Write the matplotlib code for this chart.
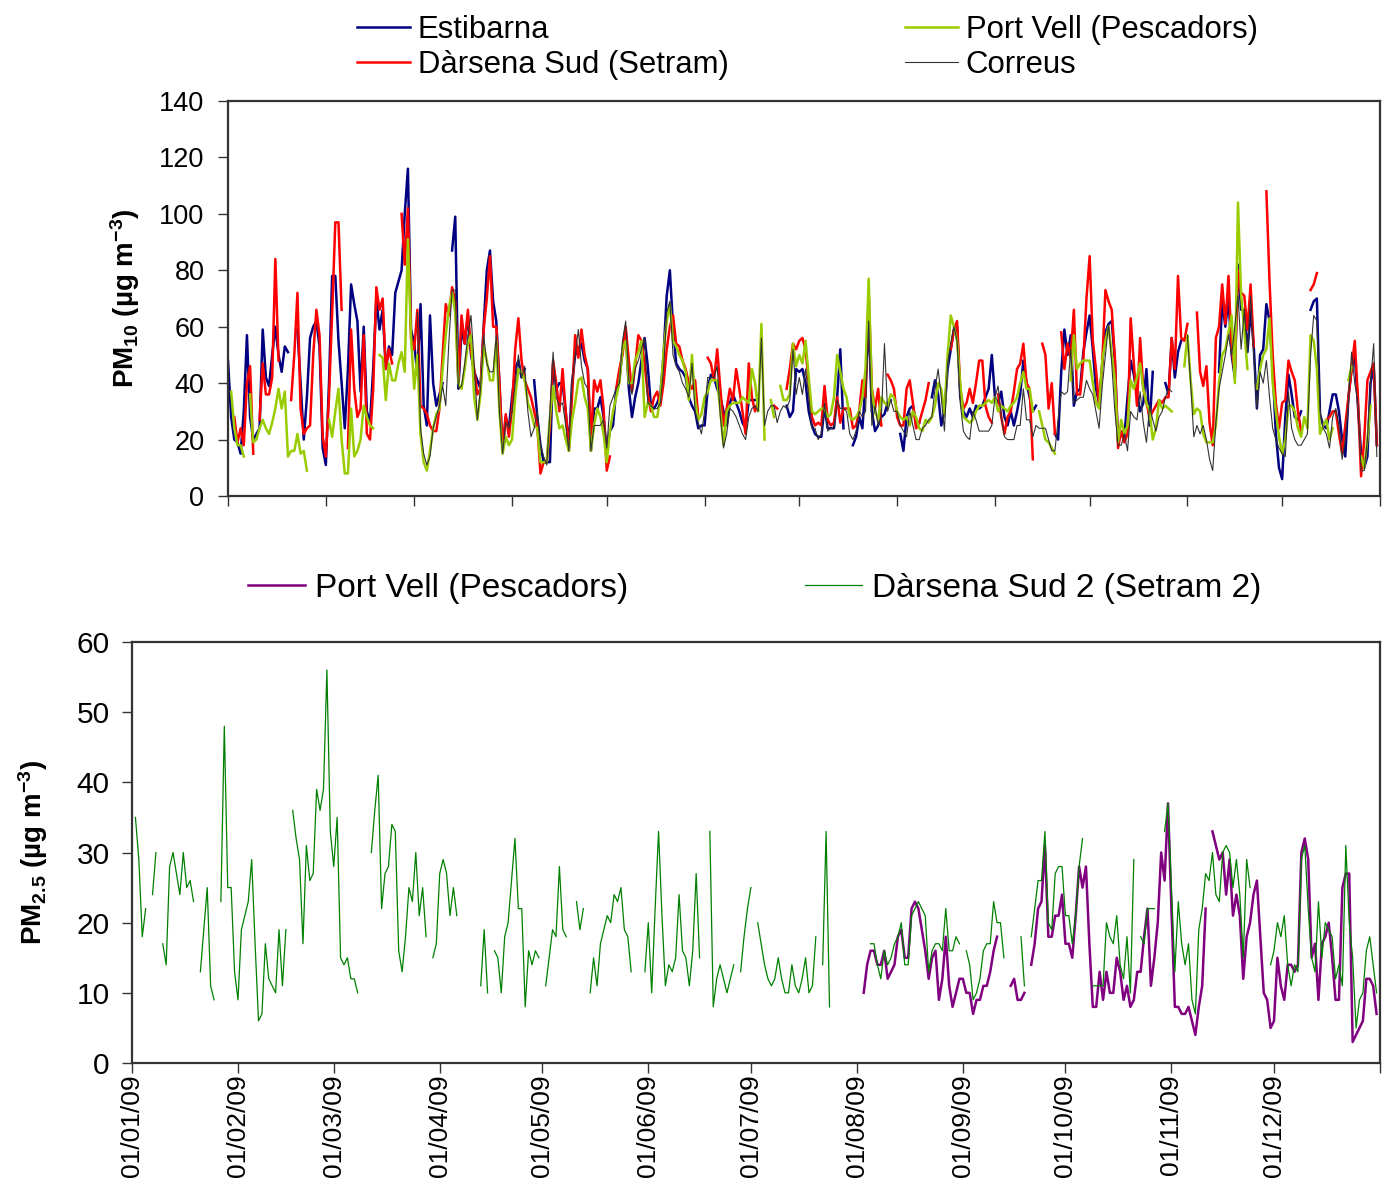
import numpy as np
import matplotlib
matplotlib.use('Agg')
import matplotlib.pyplot as plt

N = None  # missing day

# PM10 daily means, 2009 (one value per day, Jan..Dec)
estibarna = [
    48, 28, 20, 19, 15, 30, 57, 28, 20, 22, 24, 59, 42, 39, 50, 60, 50, 44, 53, 51, N, N, 59, 40, 20, 35, 56, 60, 62, 53, 17,
    11, 40, 78, 78, 55, 40, 24, 45, 75, 68, 62, 37, 60, 30, 26, 45, 70, 59, 66, 45, 53, 50, 72, 76, 80, 100, 116, 59,
    54, 43, 68, 32, 25, 64, 40, 32, 36, 40, N, N, 87, 99, 38, 59, 54, 64, 50, 44, 41, 38, 60, 80, 87, 69, 62, 40, 16, 28, 24,
    35, 45, 48, 42, 45, N, N, 41, 28, 18, 12, 12, 12, 47, 38, 40, 40, 30, 17, 40, 50, 52, 54, 48, 45, 16, 31, 31, 35, 28,
    16, 23, 25, 38, 41, 52, 59, 38, 28, 35, 40, 48, 56, 46, 32, 31, 33, 36, 50, 71, 80, 60, 47, 45, 44, 42, 35, 32, 30, 24, 25,
    25, 38, 43, 42, 38, 35, 30, 25, 33, 36, 33, 30, 26, 24, 34, 34, 34, 34, N, N, N, N, N, N, N, N, 32, 28, 30, 45,
    44, 45, 40, 30, 25, 22, 21, 21, 32, 24, 24, 24, 35, 52, 24, N, N, 18, 21, 28, 24, 40, 62, 30, 23, 25, 28, 29, 33, 34, N,
    N, 22, 16, 28, 31, 32, 26, 26, N, N, N, 35, 41, 36, 25, 30, 45, 52, 59, 60, 35, 30, 28, 31, 28, 32, 31, 32, 35, 38, 50,
    35, 33, 37, 28, 25, 30, 25, 30, 36, 48, 40, 35, 30, 32, N, N, N, N, N, 22, 20, 44, 59, 50, 57, 32, 37, 38, 51, 58,
    64, 52, 38, 33, 47, 58, 61, 62, 48, 19, 23, 21, 35, 48, 43, 36, 30, 33, 45, 25, 44, N, N, N, 40, 36, 56, 42, 51, 55, N,
    N, N, N, N, N, N, N, N, N, N, 44, 69, 60, 70, 50, 42, 82, 66, 66, 51, 66, 53, 31, 50, 52, 68, 62, 45, 22, 10,
    6, 28, 43, 36, 28, 27, 30, N, N, 66, 69, 70, 29, 25, 24, 30, 36, 36, 30, 20, 14, 35, 45, 50, 32, 15, 10, 14, 40, 46, 18,
]

darsena_sud = [
    N, N, 28, 19, 24, 18, 40, 46, 15, N, 27, 47, 36, 36, 42, 84, 48, N, N, N, 34, 50, 72, 31, 22, 24, 25, 50, 66, 57, 21,
    14, 35, 65, 97, 97, 66, N, 17, 59, 38, 28, 31, 57, 22, 20, 38, 74, 66, 70, 45, 52, 47, N, N, 100, 82, 102, 56,
    52, 66, 32, 31, 29, 25, 23, 23, 31, 50, 68, 64, 74, 69, 41, 64, 54, 66, 51, 45, 36, 38, 59, 70, 85, 60, 60, 40, 16, 29, 21,
    31, 52, 63, 48, 41, 38, 35, 30, 25, 8, 12, 12, 25, 48, 40, 30, 45, 30, 16, 35, 57, 49, 59, 50, 45, 20, 41, 37, 41, 31,
    9, 14, N, 38, 45, 50, 60, 48, 37, 46, 57, 55, 47, 36, 30, 35, 37, 32, 40, 52, 60, 64, 54, 53, 48, 45, 40, 38, 41, 28, N,
    N, 49, 47, 41, 52, 38, 25, 31, 38, 34, 45, 38, 30, 22, 47, 35, 30, 34, N, N, N, N, 32, 31, N, N, 38, 45, 54, 52,
    55, 56, 52, 40, 28, 25, 26, 25, 39, 27, 25, 26, 35, 26, 31, 31, 31, 24, 25, 30, 41, 35, 72, 38, 31, 38, 25, N, 43, 41, 38,
    28, 25, 25, 38, 41, 33, 24, 26, 30, 34, 40, N, N, N, N, N, N, 52, 59, 62, 38, 31, 33, 38, 33, 40, 48, 48, 32, 28, 26,
    N, 36, 28, 22, 28, 30, 37, 45, 47, 54, 40, 38, 13, N, N, 54, 50, 31, 40, 22, N, 58, 45, 54, 49, 66, 36, 36, 48, 70,
    85, 55, 45, 32, 47, 73, 69, 66, 49, 17, 23, 19, 22, 63, 47, 32, 56, 38, 33, 28, 30, 32, 34, 33, 35, 35, 56, 45, 78, 56, 55,
    61, N, N, 65, 44, 39, 46, 26, 18, 56, 60, 75, 61, 78, 52, 44, 80, 72, 71, 59, 75, 53, N, N, N, 108, 76, 50, 33, 24,
    33, 34, 48, 44, 41, 30, 23, N, N, 73, 75, 79, N, N, 27, 28, 30, 30, 22, 15, 25, 35, 45, 55, 35, 7, 20, 41, 44, 47, 18,
]

port_vell = [
    N, 37, 24, 18, 18, 14, N, 36, 19, 20, 24, 27, 24, 22, 26, 31, 38, 31, 37, 14, 16, 16, 22, 15, 16, 9, N, N, N, N, N,
    N, 27, 21, 30, 38, 20, 8, 8, 31, 14, 16, 20, 32, 28, 25, 24, N, 50, 49, 34, 47, 41, 41, 47, 51, 44, 91, 56,
    38, 50, 22, 12, 9, 16, 24, 29, 31, 45, 57, 67, 72, 65, 40, 38, 45, 54, 57, 35, 27, 36, 53, 48, 41, 41, 55, 30, 15, 21, 18,
    20, 35, 45, 44, 41, 33, 30, 25, 24, 12, 12, 12, 28, 39, 30, 24, 25, 20, 16, 27, 33, 41, 42, 35, 31, 16, 25, 31, 28, 22,
    12, 23, 30, 35, 40, 52, 55, 40, 40, 48, 51, 55, 28, 33, 32, 28, 28, 35, 51, 62, 68, 55, 53, 50, 48, 44, 34, 50, 34, 27, 29,
    35, 37, 41, 41, 41, 30, 18, 30, 32, 33, 33, 33, 35, 34, 33, 45, 40, 30, 61, 20, N, 34, 28, N, 39, 34, 34, 36, 54, 46,
    50, 47, 55, 42, 30, 29, 30, 31, 31, 28, 29, 35, 50, 44, 38, 35, 28, 27, 28, 30, 35, 45, 77, 37, 30, 27, 35, 33, 32, 36, 35,
    30, 28, 27, 28, 25, 30, 28, 24, 23, 27, 26, 28, 32, 40, 38, 29, 50, 64, 60, 55, 40, 28, 27, 26, 27, 30, 32, 32, 33, 34, 33,
    35, 30, 32, 31, 30, 32, 33, 35, 40, 44, 38, 38, 30, N, 30, 25, 20, 19, 17, 15, N, N, N, N, 41, 57, 45, 47, 48, 48,
    48, 40, 33, 31, 48, 55, 60, 50, 41, 19, 27, 22, 25, 41, 38, 42, 47, 38, 33, 30, 20, 24, 34, 31, 32, 31, 30, N, N, N, 46,
    57, 41, 29, 31, 30, 22, 19, 19, 19, 25, 40, 50, 52, 58, 64, 40, 104, 71, 59, 45, N, N, 38, 45, 50, 52, 63, 40, 30, 21,
    15, 20, 32, 32, 30, 24, 21, 28, 24, 57, 55, 45, 22, 25, 27, 20, 24, N, N, N, N, 41, 46, N, N, 14, 10, 20, 32, N, N,
]

correus = [N] * 59 + [
    N, 65, 24, 15, 11, 14, 24, 28, 32, 39, 32, 55, 73, 73, 38, 39, 47, 57, 64, 47, 27, 38, 57, 47, 44, 44, 57, 30, 15, 26, 24,
    30, 40, 50, 42, 46, 30, 21, 24, 30, 18, 14, 11, 30, 51, 35, 32, 33, 25, 16, 40, 50, 59, 46, 40, 38, 16, 25, 25, 25, 27,
    17, 32, 35, 38, 40, 55, 62, 41, 36, 45, 48, 52, 56, 33, 32, 31, 31, 33, 45, 65, 69, 50, 46, 44, 40, 38, 35, 47, 30, 26, 22,
    30, 42, 42, 42, 46, 28, 17, 22, 31, 30, 28, 25, 22, 20, 28, 31, 32, 30, 56, 25, 30, 32, 32, 26, 30, 32, 31, 34, 52, 36,
    42, 36, 45, 35, 24, 24, 20, 22, 33, 23, 24, 24, 34, 31, 31, 30, 22, 20, 23, 30, 28, 30, 62, 25, 32, 25, 28, 54, 30, 34, 30,
    30, 25, 23, 21, 30, 25, 20, 20, 24, 25, 27, 28, 38, 45, 35, 23, 47, 54, 60, 55, 33, 23, 21, 20, 30, 27, 23, 23, 23, 23, 25,
    35, 39, 28, 21, 20, 20, 20, 25, 25, 38, 27, 27, 21, 25, 24, 24, 24, 20, 16, 16, 27, 37, 36, 37, 52, 33, 34, 35, 35, 41,
    38, 36, 30, 24, 39, 50, 61, 47, 30, 18, 18, 22, 16, 30, 28, 27, 37, 26, 19, 32, 27, 23, 28, 30, 35, 38, 37, N, N, N, N,
    57, 40, 21, 25, 22, 25, 20, 13, 9, 26, 38, 44, 50, 57, 50, 60, 71, 52, 66, 51, 71, 50, 31, 44, 40, 48, 35, 24, 20, 17,
    15, 14, 37, 24, 20, 18, 18, 20, 22, 50, 64, 62, 30, 24, 22, 17, 28, 31, 25, 13, 20, 34, 51, 40, 33, 9, 9, 20, 40, 54, 14,
]

# PM2.5 daily means, 2009
darsena_sud2 = [
    N, 35, 29, 18, 22, N, 24, 30, N, 17, 14, 28, 30, 27, 24, 30, 25, 26, 23, N, 13, 19, 25, 11, 9, N, 23, 48, 25, 25, 13,
    9, 19, 21, 23, 29, 17, 6, 7, 17, 12, 11, 10, 19, 11, 19, N, 36, 32, 29, 17, 31, 26, 27, 39, 36, 39, 56, 33,
    28, 35, 15, 14, 15, 12, 12, 10, N, N, N, 30, 36, 41, 22, 27, 28, 34, 33, 16, 13, 18, 25, 23, 30, 21, 25, 18, N, 15, 17,
    27, 29, 27, 21, 25, 21, N, N, N, N, N, N, 11, 19, 10, N, 16, 15, 10, 18, 20, 26, 32, 22, 22, 8, 16, 14, 16, 15,
    N, 11, 15, 19, 18, 28, 19, 18, N, N, 23, 19, 22, N, 10, 15, 11, 17, 19, 21, 20, 24, 23, 25, 19, 18, 13, N, N, N, 13,
    20, 10, 22, 33, 21, 11, 14, 13, 15, 24, 16, 15, 11, 16, 27, 15, N, N, 33, 8, 12, 14, 12, 10, 12, 14, N, 13, 18, 22,
    25, N, 20, 17, 14, 12, 11, 12, 15, 12, 10, 10, 14, 11, 10, 12, 15, 10, 11, 18, N, 14, 33, 8, N, N, N, N, N, N, N,
    N, N, N, N, 17, 17, 14, 12, 16, 14, 15, 17, 18, 20, 14, 14, 21, 22, 23, 22, 21, 13, 16, 17, 17, 16, 22, 16, 16, 18, 17,
    N, 16, 14, 9, 10, 12, 16, 17, 17, 23, 20, 20, 15, N, N, N, N, 18, 11, N, 18, 22, 26, 26, 33, 20, 19, 27, 28, 28,
    21, 21, 17, 21, 28, 32, N, N, 11, 11, 11, 11, 20, 18, 17, 21, 14, 12, 18, 10, 29, N, 18, 17, 22, 22, 22, N, N, 33, 37,
    25, 13, 23, 17, 14, 17, 9, 7, 19, 22, 27, 26, 30, 24, 23, 30, 31, 30, 25, 29, 24, 15, 29, 25, N, N, N, N, N, 14,
    16, 20, 18, 21, 14, 11, 14, 13, 29, 31, 22, 15, 13, 23, 15, 20, 19, 18, 12, 14, 11, 31, 20, 15, 5, 9, 10, 16, 18, 14, 10,
]

port_vell25 = [N] * 212 + [
    N, N, 10, 14, 16, 16, 14, 14, 16, 12, 13, 14, 18, 19, 15, 15, 22, 23, 22, 19, 16, 12, 15, 16, 9, 12, 18, 11, 8, 10, 12,
    12, 10, 10, 7, 9, 9, 11, 11, 13, 16, 18, N, N, N, 11, 12, 9, 9, 10, N, 14, 17, 22, 23, 31, 18, 18, 21, 21, 24,
    17, 17, 15, 21, 28, 25, 28, 17, 8, 8, 13, 9, 13, 10, 10, 15, 13, 9, 11, 8, 9, 13, 13, 18, 22, 11, 15, 20, 30, 26, 37,
    22, 8, 8, 7, 7, 8, 6, 4, 8, 11, 22, N, 33, 31, 29, 30, 24, 29, 21, 24, 21, 12, 18, 20, 24, 26, 18, 10, 9, 5,
    6, 15, 11, 9, 14, 14, 13, 14, 30, 32, 29, 15, 17, 9, 17, 18, 20, 15, 9, 9, 25, 27, 27, 3, 4, 5, 6, 12, 12, 11, 7,
]

month_labels = ['01/01/09', '01/02/09', '01/03/09', '01/04/09', '01/05/09', '01/06/09',
                '01/07/09', '01/08/09', '01/09/09', '01/10/09', '01/11/09', '01/12/09', '']

start = np.datetime64('2009-01-01')


def days_of(values):
    """dates for a daily series starting 1 Jan 2009"""
    return start + np.arange(len(values)), np.array(values, dtype=float)


plt.rcParams['font.family'] = ['Liberation Sans', 'DejaVu Sans']
plt.rcParams['mathtext.fontset'] = 'custom'
plt.rcParams['mathtext.rm'] = 'Liberation Sans:bold'
plt.rcParams['mathtext.it'] = 'Liberation Sans:bold'
plt.rcParams['mathtext.bf'] = 'Liberation Sans:bold'

month_ticks = np.arange('2009-01', '2010-02', dtype='datetime64[M]').astype('datetime64[D]')
frame = '#333333'

fig = plt.figure(figsize=(13.83, 11.81), dpi=100)
ax1 = fig.add_axes([228 / 1383, 1 - 496 / 1181, 1152 / 1383, 395 / 1181])
ax2 = fig.add_axes([132 / 1383, 1 - 1063 / 1181, 1248 / 1383, 421 / 1181])

# PM10 panel
x, y = days_of(estibarna)
l_est, = ax1.plot(x, y, color='#000080', lw=1.8)
x, y = days_of(darsena_sud)
l_dar, = ax1.plot(x, y, color='#ff0000', lw=1.8)
x, y = days_of(port_vell)
l_pv, = ax1.plot(x, y, color='#99cc00', lw=1.8)
x, y = days_of(correus)
l_cor, = ax1.plot(x, y, color='#333333', lw=0.8)

# PM2.5 panel
x, y = days_of(port_vell25)
l_pv2, = ax2.plot(x, y, color='#800080', lw=1.8)
x, y = days_of(darsena_sud2)
l_ds2, = ax2.plot(x, y, color='#008000', lw=0.9)

for ax in (ax1, ax2):
    ax.set_xlim(start, np.datetime64('2010-01-01'))
    ax.set_xticks(month_ticks)
    ax.tick_params(axis='both', direction='out', length=7, width=1, color=frame)
    for s in ax.spines.values():
        s.set_color(frame)
        s.set_linewidth(1.6)

ax1.set_ylim(0, 140)
ax1.set_yticks(range(0, 141, 20))
ax1.tick_params(axis='y', labelsize=19.5, pad=10)
ax1.tick_params(axis='x', labelbottom=False)
ax1.set_ylabel('PM$_{10}$ (µg m$^{-3}$)', fontsize=20, fontweight='bold')
ax1.yaxis.set_label_coords(-0.075, 0.5)

ax2.set_ylim(0, 60)
ax2.set_yticks(range(0, 61, 10))
ax2.tick_params(axis='y', labelsize=21.5, pad=9)
ax2.set_xticklabels(month_labels, rotation=90, fontsize=19)
ax2.tick_params(axis='x', pad=1)
ax2.set_ylabel('PM$_{2.5}$ (µg m$^{-3}$)', fontsize=20, fontweight='bold')
ax2.yaxis.set_label_coords(-0.066, 0.5)

fig.legend([l_est, l_dar, l_pv, l_cor],
           ['Estibarna', 'Dàrsena Sud (Setram)', 'Port Vell (Pescadors)', 'Correus'],
           ncol=2, loc='upper left', bbox_to_anchor=(357 / 1383, 1 - 15 / 1181),
           frameon=False, fontsize=22.4, handlelength=1.7, handletextpad=0.26,
           columnspacing=5.66, labelspacing=0.15, borderpad=0, borderaxespad=0)
fig.legend([l_pv2, l_ds2], ['Port Vell (Pescadors)', 'Dàrsena Sud 2 (Setram 2)'],
           ncol=2, loc='upper left', bbox_to_anchor=(248 / 1383, 1 - 573 / 1181),
           frameon=False, fontsize=24, handlelength=1.71, handletextpad=0.3,
           columnspacing=5.31, borderpad=0, borderaxespad=0)

fig.savefig('out.png', dpi=100)
